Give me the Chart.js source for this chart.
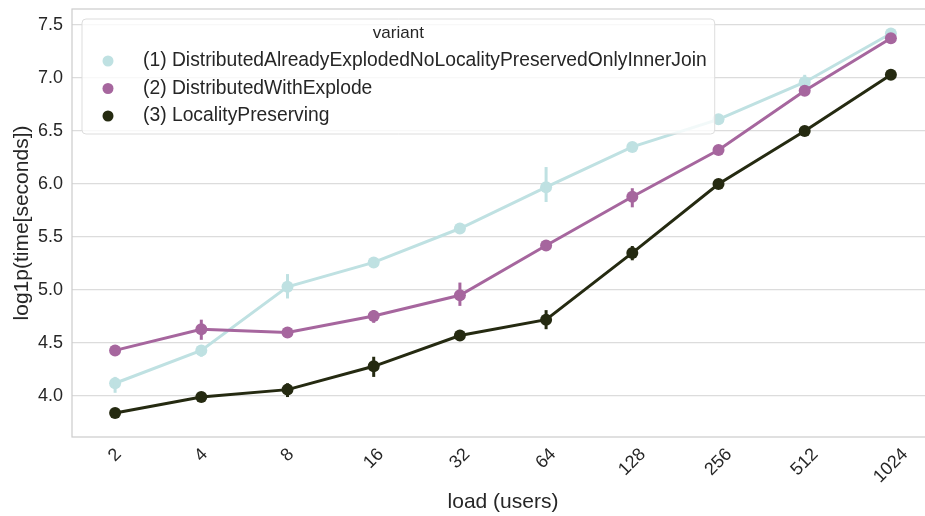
<!DOCTYPE html>
<html>
<head>
<meta charset="utf-8">
<script src="https://cdn.jsdelivr.net/npm/chart.js@4/dist/chart.umd.min.js"></script>
<style>
  html, body { margin: 0; padding: 0; background: #fff; overflow: hidden; }
  #wrap { width: 925px; height: 516px; overflow: hidden; }
</style>
</head>
<body>
<div id="wrap"><canvas id="chart" width="940" height="516"></canvas></div>
<script>
// categories on the x axis
const loads = ['2', '4', '8', '16', '32', '64', '128', '256', '512', '1024'];
const yTicks = [4.0, 4.5, 5.0, 5.5, 6.0, 6.5, 7.0, 7.5];

const variantNames = [
    '(1) DistributedAlreadyExplodedNoLocalityPreservedOnlyInnerJoin',
    '(2) DistributedWithExplode',
    '(3) LocalityPreserving'
];
const variantColors = ['#bfe1e2', '#a6669e', '#252a11'];

// mean of log1p(time) and its confidence interval per load
const innerJoinMean = [4.12, 4.43, 5.03, 5.26, 5.58, 5.97, 6.35, 6.61, 6.96, 7.42];
const innerJoinLow  = [4.03, 4.37, 4.92, 5.22, 5.55, 5.83, 6.32, 6.58, 6.92, 7.38];
const innerJoinHigh = [4.18, 4.48, 5.15, 5.30, 5.61, 6.16, 6.39, 6.64, 7.03, 7.46];

const explodeMean = [4.43, 4.63, 4.60, 4.755, 4.95, 5.42, 5.88, 6.32, 6.88, 7.375];
const explodeLow  = [4.41, 4.53, 4.58, 4.69, 4.85, 5.39, 5.78, 6.29, 6.86, 7.36];
const explodeHigh = [4.45, 4.72, 4.62, 4.81, 5.07, 5.46, 5.96, 6.35, 6.91, 7.39];

const localityMean = [3.84, 3.99, 4.06, 4.28, 4.57, 4.72, 5.35, 6.00, 6.50, 7.03];
const localityLow  = [3.82, 3.97, 3.99, 4.18, 4.53, 4.63, 5.28, 5.97, 6.48, 7.01];
const localityHigh = [3.86, 4.02, 4.12, 4.37, 4.61, 4.81, 5.415, 6.03, 6.52, 7.06];

const means = [innerJoinMean, explodeMean, localityMean];
const lows = [innerJoinLow, explodeLow, localityLow];
const highs = [innerJoinHigh, explodeHigh, localityHigh];

const FONT = '"Liberation Sans", Arial, sans-serif';
const TEXT = '#262626';

const datasets = variantNames.map((name, i) => ({
    label: name,
    data: means[i],
    borderColor: variantColors[i],
    backgroundColor: variantColors[i],
    borderWidth: 3,
    pointRadius: 6,
    pointBorderWidth: 0,
    pointHoverRadius: 6,
    tension: 0,
    order: variantNames.length - i,
    errLow: lows[i],
    errHigh: highs[i]
}));

// frame around the plot area
const frame = {
    id: 'frame',
    beforeDatasetsDraw(chart) {
        const a = chart.chartArea, ctx = chart.ctx;
        ctx.save();
        ctx.strokeStyle = '#cccccc';
        ctx.lineWidth = 1.2;
        ctx.strokeRect(a.left, a.top, a.right - a.left, a.bottom - a.top);
        ctx.restore();
    }
};

// vertical confidence interval bars
const errorBars = {
    id: 'errorBars',
    afterDatasetDraw(chart, args) {
        const ds = chart.data.datasets[args.index];
        const xs = chart.scales.x, ys = chart.scales.y, ctx = chart.ctx;
        ctx.save();
        ctx.strokeStyle = ds.borderColor;
        ctx.lineWidth = 3;
        ds.errLow.forEach((lo, j) => {
            const x = xs.getPixelForValue(j);
            ctx.beginPath();
            ctx.moveTo(x, ys.getPixelForValue(lo));
            ctx.lineTo(x, ys.getPixelForValue(ds.errHigh[j]));
            ctx.stroke();
        });
        ctx.restore();
    }
};

// rotated x labels, axis titles and the legend box
const decorations = {
    id: 'decorations',
    afterDraw(chart) {
        const ctx = chart.ctx, a = chart.chartArea, xs = chart.scales.x;
        ctx.save();
        ctx.fillStyle = TEXT;
        ctx.font = '18px ' + FONT;
        loads.forEach((lab, j) => {
            const x = xs.getPixelForValue(j);
            const w = ctx.measureText(lab).width;
            const side = (w + 13) * Math.SQRT1_2;
            ctx.save();
            ctx.translate(x, a.bottom + 10 + side / 2);
            ctx.rotate(-Math.PI / 4);
            ctx.textAlign = 'center';
            ctx.textBaseline = 'middle';
            ctx.fillText(lab, 0, 0);
            ctx.restore();
        });

        ctx.font = '21px ' + FONT;
        ctx.textAlign = 'center';
        ctx.textBaseline = 'middle';
        ctx.fillText('load (users)', (a.left + a.right) / 2, 502);
        ctx.save();
        ctx.translate(22, (a.top + a.bottom) / 2);
        ctx.rotate(-Math.PI / 2);
        ctx.fillText('log1p(time[seconds])', 0, 0);
        ctx.restore();

        // legend
        ctx.font = '19.3px ' + FONT;
        const textW = Math.max(...variantNames.map(n => ctx.measureText(n).width));
        const lx = a.left + 10, ly = a.top + 10;
        const lw = 61 + textW + 8, lh = 115;
        ctx.beginPath();
        ctx.roundRect(lx, ly, lw, lh, 4);
        ctx.fillStyle = 'rgba(255,255,255,0.8)';
        ctx.fill();
        ctx.strokeStyle = '#dddddd';
        ctx.lineWidth = 1;
        ctx.stroke();

        ctx.fillStyle = TEXT;
        ctx.font = '17px ' + FONT;
        ctx.textAlign = 'center';
        ctx.fillText('variant', lx + lw / 2, ly + 14);
        ctx.font = '19.3px ' + FONT;
        ctx.textAlign = 'left';
        variantNames.forEach((n, i) => {
            const y = ly + 42 + i * 27.5;
            ctx.beginPath();
            ctx.arc(lx + 26, y, 5.5, 0, Math.PI * 2);
            ctx.fillStyle = variantColors[i];
            ctx.fill();
            ctx.fillStyle = TEXT;
            ctx.fillText(n, lx + 61, y);
        });
        ctx.restore();
    }
};

new Chart(document.getElementById('chart'), {
    type: 'line',
    data: { labels: loads, datasets: datasets },
    options: {
        responsive: false,
        animation: false,
        events: [],
        layout: { padding: { top: 9, right: 5, left: 0, bottom: 0 } },
        plugins: { legend: { display: false }, tooltip: { enabled: false } },
        scales: {
            x: {
                offset: true,
                grid: { display: false, drawTicks: false },
                border: { display: false },
                ticks: { display: false },
                afterFit(scale) { scale.height = 79; scale.paddingLeft = 0; scale.paddingRight = 0; }
            },
            y: {
                min: 3.613,
                max: 7.651,
                afterBuildTicks(scale) {
                    scale.ticks = yTicks.map(v => ({ value: v }));
                },
                afterFit(scale) { scale.width = 72; scale.paddingTop = 0; scale.paddingBottom = 0; },
                grid: { color: '#dcdcdc', lineWidth: 1.2, drawTicks: false },
                border: { display: false },
                ticks: {
                    padding: 9,
                    color: TEXT,
                    font: { family: FONT, size: 18 },
                    callback: v => v.toFixed(1)
                }
            }
        }
    },
    plugins: [frame, errorBars, decorations]
});
</script>
</body>
</html>
